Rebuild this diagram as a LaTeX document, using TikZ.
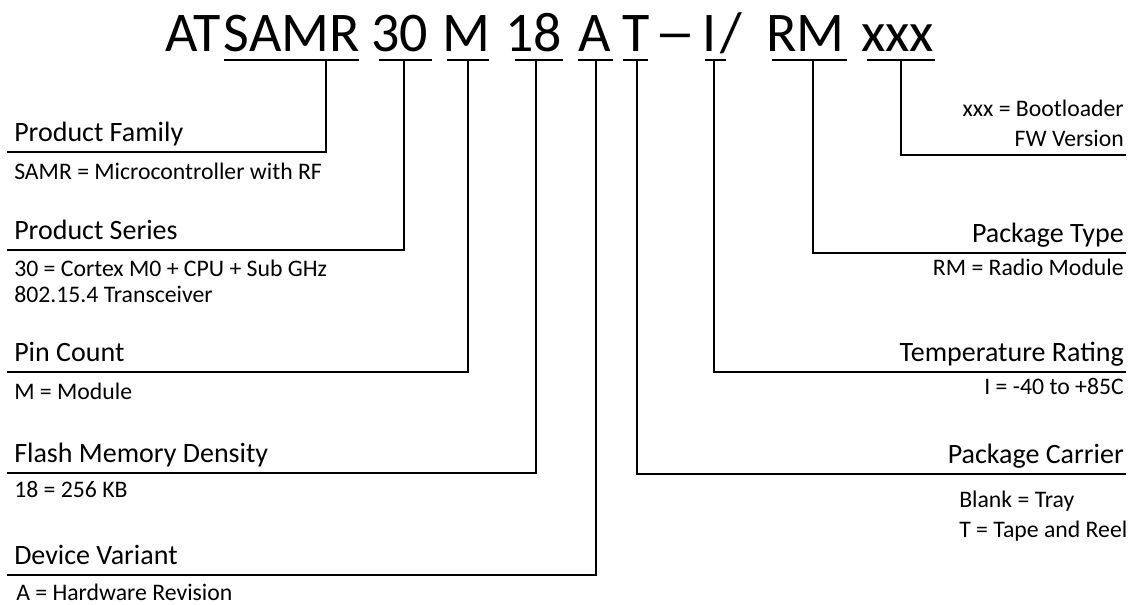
\documentclass[tikz,border=0pt]{standalone}
\usepackage{fontspec}
\setmainfont{Carlito}
\usetikzlibrary{positioning,calc}

\begin{document}
\begin{tikzpicture}[x=0.75pt, y=-0.75pt,
    part/.style={inner sep=0pt, anchor=base, font=\fontsize{42}{50}\selectfont},
    head/.style={inner sep=0pt, font=\fontsize{21}{25}\selectfont},
    desc/.style={inner sep=0pt, font=\fontsize{17.8}{19.5}\selectfont},
    lead/.style={line width=1.4pt},
]
\useasboundingbox (0,0) rectangle (1136,605);

% Ordering code, one piece per field
\node[part] (pAT)   at (193.5,52) {AT};
\node[part] (pSAMR) at (292,52)   {SAMR};
\node[part] (p30)   at (399.5,52) {30};
\node[part] (pM)    at (466,52)   {M};
\node[part] (p18)   at (533.5,52) {18};
\node[part] (pA)    at (595,52)   {A};
\node[part] (pT)    at (636.5,52) {T};
\node[part, xscale=1.5] (pdash) at (675,52) {--};
\node[part] (pI)    at (710,52)   {I};
\node[part] (pslash) at (731,52)  {/};
\node[part] (pRM)   at (805.5,52) {RM};
\node[part] (pxxx)  at (897.5,52) {xxx};

% Underlines with the tap point of each leader
\foreach \n/\a/\b/\c in {fam/224/359/326, ser/379/432/404, pin/447/489/468,
    mem/515/563/536, var/578/613/596, car/623/648/637, tmp/705/726/714,
    pkg/772/847/813, boot/867/935/901}{
  \draw[lead] (\a,60) -- (\b,60);
  \coordinate (u-\n) at (\c,60);
}

% Left column
\node[head, anchor=base west] (famH) at (14,142) {Product Family};
\node[desc, anchor=base west] (famD) at (14,180) {SAMR = Microcontroller with RF};
\coordinate (famL) at (7,152);

\node[head, anchor=base west] (serH) at (14,240) {Product Series};
\node[desc, anchor=base west, align=left, font=\fontsize{17.8}{19.5}\selectfont] (serD) at (14,303) {30 = Cortex M0 + CPU + Sub GHz\\802.15.4 Transceiver};
\coordinate (serL) at (7,250);

\node[head, anchor=base west] (pinH) at (14,362) {Pin Count};
\node[desc, anchor=base west] (pinD) at (14,400) {M = Module};
\coordinate (pinL) at (7,372);

\node[head, anchor=base west] (memH) at (14,463) {Flash Memory Density};
\node[desc, anchor=base west] (memD) at (14,498) {18 = 256 KB};
\coordinate (memL) at (7,473);

\node[head, anchor=base west] (varH) at (14,565) {Device Variant};
\node[desc, anchor=base west] (varD) at (16,601) {A = Hardware Revision};
\coordinate (varL) at (7,575);

% Right column
\node[desc, anchor=base east, align=right, font=\fontsize{17.8}{22.5}\selectfont] (bootD) at (1124,147) {xxx = Bootloader\\FW Version};
\coordinate (bootL) at (1126,155);

\node[head, anchor=base east] (pkgH) at (1124,243) {Package Type};
\node[desc, anchor=base east] (pkgD) at (1124,276) {RM = Radio Module};
\coordinate (pkgL) at (1126,253);

\node[head, anchor=base east] (tmpH) at (1124,362) {Temperature Rating};
\node[desc, anchor=base east] (tmpD) at (1124,395) {I = -40 to +85C};
\coordinate (tmpL) at (1126,372);

\node[head, anchor=base east] (carH) at (1124,464) {Package Carrier};
\node[desc, anchor=base west, align=left, font=\fontsize{17.8}{23}\selectfont] (carD) at (959,538) {Blank = Tray\\T = Tape and Reel};
\coordinate (carL) at (1126,474);

% Leaders from code to field
\draw[lead] (u-fam) |- (famL);
\draw[lead] (u-ser) |- (serL);
\draw[lead] (u-pin) |- (pinL);
\draw[lead] (u-mem) |- (memL);
\draw[lead] (u-var) |- (varL);
\draw[lead] (u-boot) |- (bootL);
\draw[lead] (u-pkg) |- (pkgL);
\draw[lead] (u-tmp) |- (tmpL);
\draw[lead] (u-car) |- (carL);

\end{tikzpicture}
\end{document}
